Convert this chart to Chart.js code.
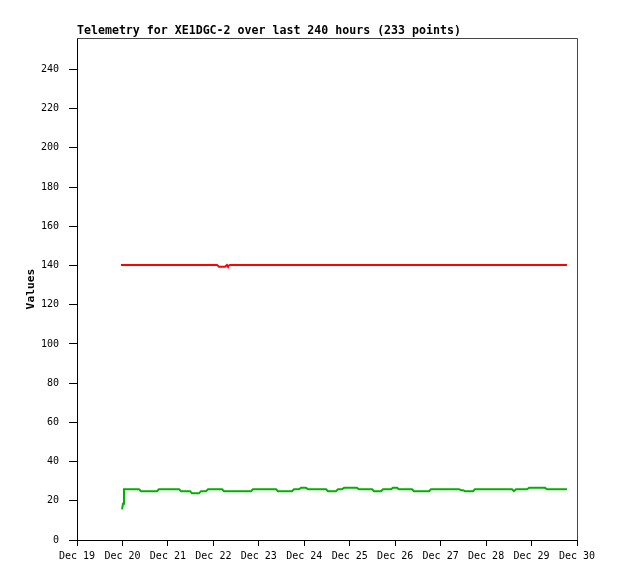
<!DOCTYPE html>
<html>
<head>
<meta charset="utf-8">
<script src="https://cdn.jsdelivr.net/npm/chart.js@4/dist/chart.umd.min.js"></script>
<style>
  body { margin: 0; background: #fff; }
</style>
</head>
<body>
<canvas id="canvas" width="618" height="579"></canvas>
<script>
// hours since Dec 19 00:00
var dayLabels = ['Dec 19', 'Dec 20', 'Dec 21', 'Dec 22', 'Dec 23', 'Dec 24', 'Dec 25', 'Dec 26', 'Dec 27', 'Dec 28', 'Dec 29', 'Dec 30'];
var yTicks = [0, 20, 40, 60, 80, 100, 120, 140, 160, 180, 200, 220, 240];

var redHours = [23.2, 73.9, 75.0, 78.1, 79.2, 79.7, 80.8, 258.7];
var redValues = [140.3, 140.3, 139.3, 139.3, 140.3, 139.7, 140.3, 140.3];

var greenHours = [23.8, 24.3, 24.8, 32.7, 33.8, 42.2, 43.3, 53.9, 54.9, 59.7, 60.7, 64.4, 65.5, 68.1, 69.2,
    76.6, 77.6, 91.9, 92.9, 105.1, 106.1, 113.5, 114.6, 117.2, 118.3, 120.9, 122.0, 131.5, 132.5, 136.7,
    137.8, 139.9, 141.0, 147.8, 148.9, 155.8, 156.8, 160.5, 161.6, 165.8, 166.8, 169.0, 170.0, 176.9,
    177.9, 185.9, 186.9, 201.7, 202.8, 203.8, 204.9, 209.1, 210.1, 229.7, 230.7, 231.8, 237.6, 238.7,
    247.1, 248.2, 258.7];
var greenValues = [15.6, 18.5, 25.9, 25.9, 24.9, 24.9, 25.9, 25.9, 24.9, 24.9, 23.8, 23.8, 24.9, 24.9, 25.9,
    25.9, 24.9, 24.9, 25.9, 25.9, 24.9, 24.9, 25.9, 25.9, 26.6, 26.6, 25.9, 25.9, 24.9, 24.9,
    25.9, 25.9, 26.6, 26.6, 25.9, 25.9, 24.9, 24.9, 25.9, 25.9, 26.6, 26.6, 25.9, 25.9,
    24.9, 24.9, 25.9, 25.9, 25.4, 25.4, 24.9, 24.9, 25.9, 25.9, 24.9, 25.9, 25.9, 26.6,
    26.6, 25.9, 25.9];

function toPoints(xs, ys) {
    var pts = [];
    xs.forEach((h, i) => {
        pts.push({x: h, y: ys[i]});
    });
    return pts;
}

var mono = '"DejaVu Sans Mono", "Liberation Mono", monospace';

var frame = {
    id: 'frame',
    afterDraw: function(chart) {
        var ctx = chart.ctx;
        var a = chart.chartArea;
        ctx.save();
        // gray top and right edges
        ctx.strokeStyle = '#444';
        ctx.lineWidth = 1;
        ctx.beginPath();
        ctx.moveTo(a.left, a.top + 0.5);
        ctx.lineTo(a.right + 0.5, a.top + 0.5);
        ctx.lineTo(a.right + 0.5, a.bottom);
        ctx.stroke();
        // title
        ctx.fillStyle = '#000';
        ctx.font = 'bold 11.6px ' + mono;
        ctx.textBaseline = 'middle';
        ctx.textAlign = 'left';
        ctx.fillText('Telemetry for XE1DGC-2 over last 240 hours (233 points)', 77, 31);
        // y axis title
        ctx.translate(31, 289);
        ctx.rotate(-Math.PI / 2);
        ctx.textAlign = 'center';
        ctx.font = 'bold 11.3px ' + mono;
        ctx.fillText('Values', 0, 0);
        ctx.restore();
    }
};

var config = {
    type: 'line',
    data: {
        datasets: [{
            data: toPoints(redHours, redValues),
            borderColor: '#ff0000',
            borderWidth: 2,
            pointRadius: 0,
            tension: 0
        }, {
            data: toPoints(greenHours, greenValues),
            borderColor: '#00b000',
            borderWidth: 2,
            pointRadius: 0,
            tension: 0
        }]
    },
    options: {
        responsive: false,
        animation: false,
        layout: {
            padding: {top: 38, right: 41, left: 0, bottom: 0}
        },
        plugins: {
            legend: {display: false},
            title: {display: false},
            tooltip: {enabled: false}
        },
        scales: {
            x: {
                type: 'linear',
                min: 0,
                max: 264,
                afterFit: function(scale) { scale.height = 39; },
                afterBuildTicks: function(scale) {
                    scale.ticks = dayLabels.map((d, i) => ({value: i * 24}));
                },
                ticks: {
                    autoSkip: false,
                    maxRotation: 0,
                    color: '#000',
                    padding: 4,
                    font: {family: mono, size: 10},
                    callback: function(v) { return dayLabels[Math.round(v / 24)]; }
                },
                grid: {
                    drawOnChartArea: false,
                    color: '#000',
                    tickLength: 6
                },
                border: {color: '#000'}
            },
            y: {
                min: 0,
                max: 256,
                afterFit: function(scale) { scale.width = 77; },
                afterBuildTicks: function(scale) {
                    scale.ticks = yTicks.map(v => ({value: v}));
                },
                ticks: {
                    color: '#000',
                    padding: 10,
                    font: {family: mono, size: 10}
                },
                grid: {
                    drawOnChartArea: false,
                    color: '#000',
                    tickLength: 8
                },
                border: {color: '#000'}
            }
        }
    },
    plugins: [frame]
};

var ctx = document.getElementById("canvas");
window.myChart = new Chart(ctx, config);
</script>
</body>
</html>
